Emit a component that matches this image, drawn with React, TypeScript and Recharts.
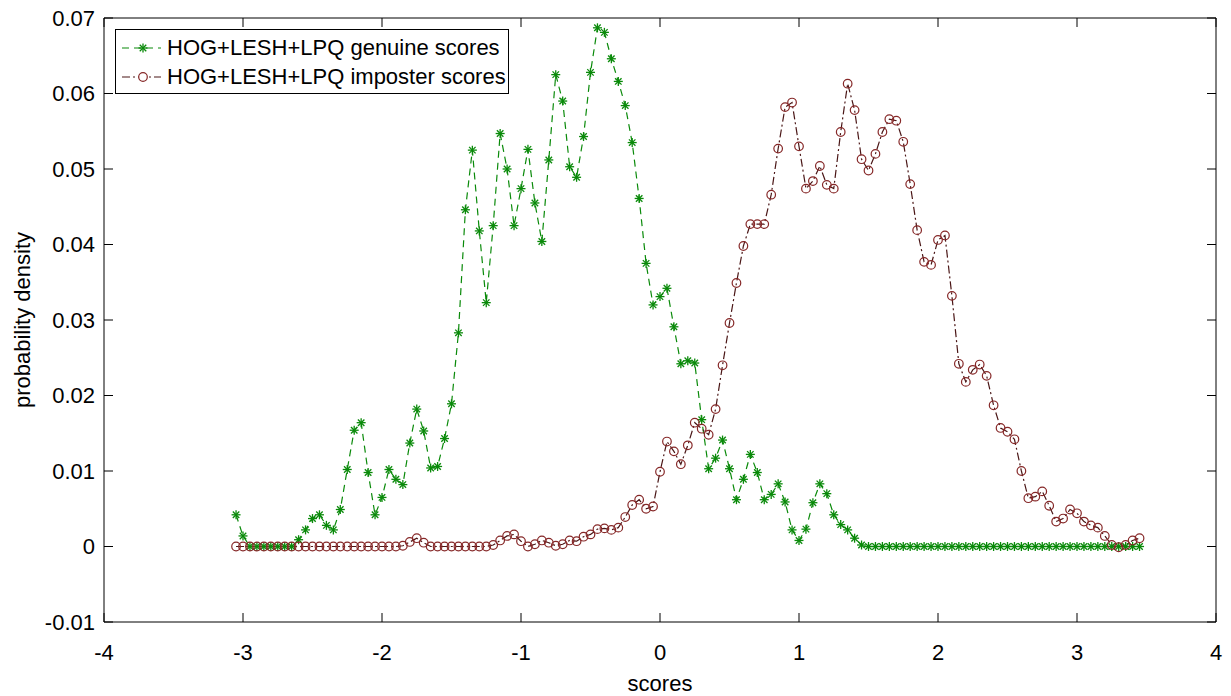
import React from "react";
import { LineChart, Line, XAxis, YAxis, ReferenceArea } from "recharts";

// score grid (bin centres)
const X_VALUES = [
  -3.05, -3.0, -2.95, -2.9, -2.85, -2.8, -2.75, -2.7, -2.65, -2.6,
  -2.55, -2.5, -2.45, -2.4, -2.35, -2.3, -2.25, -2.2, -2.15, -2.1,
  -2.05, -2.0, -1.95, -1.9, -1.85, -1.8, -1.75, -1.7, -1.65, -1.6,
  -1.55, -1.5, -1.45, -1.4, -1.35, -1.3, -1.25, -1.2, -1.15, -1.1,
  -1.05, -1.0, -0.95, -0.9, -0.85, -0.8, -0.75, -0.7, -0.65, -0.6,
  -0.55, -0.5, -0.45, -0.4, -0.35, -0.3, -0.25, -0.2, -0.15, -0.1,
  -0.05, 0.0, 0.05, 0.1, 0.15, 0.2, 0.25, 0.3, 0.35, 0.4,
  0.45, 0.5, 0.55, 0.6, 0.65, 0.7, 0.75, 0.8, 0.85, 0.9,
  0.95, 1.0, 1.05, 1.1, 1.15, 1.2, 1.25, 1.3, 1.35, 1.4,
  1.45, 1.5, 1.55, 1.6, 1.65, 1.7, 1.75, 1.8, 1.85, 1.9,
  1.95, 2.0, 2.05, 2.1, 2.15, 2.2, 2.25, 2.3, 2.35, 2.4,
  2.45, 2.5, 2.55, 2.6, 2.65, 2.7, 2.75, 2.8, 2.85, 2.9,
  2.95, 3.0, 3.05, 3.1, 3.15, 3.2, 3.25, 3.3, 3.35, 3.4,
  3.45,
];

const GENUINE = [
  0.0042, 0.0014, 0, 0, 0, 0, 0, 0, 0, 0.0009,
  0.0022, 0.0037, 0.0042, 0.0028, 0.0022, 0.0049, 0.0102, 0.0154, 0.0164, 0.0098,
  0.0042, 0.0065, 0.0102, 0.0089, 0.0082, 0.0137, 0.0182, 0.0153, 0.0104, 0.0106,
  0.0143, 0.0189, 0.0283, 0.0446, 0.0525, 0.0418, 0.0323, 0.0425, 0.0547, 0.05,
  0.0425, 0.0474, 0.0526, 0.0455, 0.0404, 0.0512, 0.0625, 0.059, 0.0503, 0.0489,
  0.0543, 0.0628, 0.0687, 0.0681, 0.0646, 0.0616, 0.0584, 0.0535, 0.0461, 0.0375,
  0.032, 0.0331, 0.0342, 0.0291, 0.0242, 0.0246, 0.0243, 0.0168, 0.0103, 0.0117,
  0.0141, 0.0103, 0.0062, 0.0089, 0.0122, 0.0098, 0.0062, 0.0069, 0.0083, 0.0059,
  0.0022, 0.0008, 0.0023, 0.0058, 0.0083, 0.007, 0.0042, 0.0029, 0.0022, 0.0011,
  0.0002, 0, 0, 0, 0, 0, 0, 0, 0, 0,
  0, 0, 0, 0, 0, 0, 0, 0, 0, 0,
  0, 0, 0, 0, 0, 0, 0, 0, 0, 0,
  0, 0, 0, 0, 0, 0, 0, 0, 0, 0,
  0,
];

const IMPOSTER = [
  0, 0, 0, 0, 0, 0, 0, 0, 0, 0,
  0, 0, 0, 0, 0, 0, 0, 0, 0, 0,
  0, 0, 0, 0, 0.0001, 0.0006, 0.0011, 0.0005, 0, 0,
  0, 0, 0, 0, 0, 0, 0, 0.0002, 0.0008, 0.0014,
  0.0016, 0.0007, 0, 0.0003, 0.0008, 0.0005, 0.0001, 0.0003, 0.0008, 0.0007,
  0.0013, 0.0016, 0.0023, 0.0024, 0.0022, 0.0025, 0.0039, 0.0055, 0.0062, 0.005,
  0.0053, 0.0099, 0.0139, 0.0126, 0.0109, 0.0134, 0.0164, 0.0156, 0.0148, 0.0182,
  0.024, 0.0296, 0.0349, 0.0398, 0.0427, 0.0427, 0.0427, 0.0466, 0.0527, 0.0582,
  0.0588, 0.053, 0.0474, 0.0484, 0.0504, 0.0479, 0.0474, 0.0549, 0.0613, 0.0578,
  0.0513, 0.0498, 0.052, 0.0549, 0.0566, 0.0564, 0.0536, 0.048, 0.0419, 0.0377,
  0.0373, 0.0406, 0.0412, 0.0332, 0.0242, 0.0218, 0.0234, 0.0241, 0.0226, 0.0187,
  0.0157, 0.0152, 0.0142, 0.01, 0.0064, 0.0066, 0.0073, 0.0054, 0.0033, 0.0037,
  0.0049, 0.0044, 0.0033, 0.0028, 0.0025, 0.0014, 0.0002, -0.0001, 0.0002, 0.0008,
  0.0011,
];

const X_TICKS = [-4, -3, -2, -1, 0, 1, 2, 3, 4];
const Y_TICKS = [-0.01, 0, 0.01, 0.02, 0.03, 0.04, 0.05, 0.06, 0.07];

const SERIES_NAMES = [
  "HOG+LESH+LPQ genuine scores",
  "HOG+LESH+LPQ imposter scores",
];

const rows = X_VALUES.map((x, i) => ({
  x,
  genuine: GENUINE[i],
  imposter: IMPOSTER[i],
}));

const W = 1231;
const H = 696;
const PLOT_LEFT = 104;
const PLOT_RIGHT = 1216;
const PLOT_TOP = 18;
const PLOT_BOTTOM = 622;
const TICK = 9;

const FONT = '"Liberation Sans", Arial, Helvetica, sans-serif';
const FS = 22;
const GREEN = "#0a8a0a";
const RED = "#862828";
const RED_LINE = "#4a1616";

const XTick = (props: any) => {
  const { x, payload } = props;
  return (
    <g>
      <line x1={x} x2={x} y1={PLOT_BOTTOM} y2={PLOT_BOTTOM - TICK} stroke="#000" />
      <line x1={x} x2={x} y1={PLOT_TOP} y2={PLOT_TOP + TICK} stroke="#000" />
      <text
        x={x}
        y={652}
        textAnchor="middle"
        dominantBaseline="central"
        fontSize={FS}
        fontFamily={FONT}
        fill="#000"
      >
        {String(payload.value)}
      </text>
    </g>
  );
};

const YTick = (props: any) => {
  const { y, payload } = props;
  return (
    <g>
      <line x1={PLOT_LEFT} x2={PLOT_LEFT + TICK} y1={y} y2={y} stroke="#000" />
      <line x1={PLOT_RIGHT} x2={PLOT_RIGHT - TICK} y1={y} y2={y} stroke="#000" />
      <text
        x={PLOT_LEFT - 9}
        y={y}
        textAnchor="end"
        dominantBaseline="central"
        fontSize={FS}
        fontFamily={FONT}
        fill="#000"
      >
        {String(payload.value)}
      </text>
    </g>
  );
};

const Star = ({ cx, cy, color }: any) => {
  const r = 4.5;
  const d = r * 0.72;
  return (
    <g stroke={color} strokeWidth={1.3}>
      <line x1={cx - r} x2={cx + r} y1={cy} y2={cy} />
      <line x1={cx} x2={cx} y1={cy - r} y2={cy + r} />
      <line x1={cx - d} x2={cx + d} y1={cy - d} y2={cy + d} />
      <line x1={cx - d} x2={cx + d} y1={cy + d} y2={cy - d} />
    </g>
  );
};

const renderStar = (props: any) => {
  const { cx, cy, index } = props;
  if (cx == null || cy == null) return <g key={`s-${index}`} />;
  return (
    <g key={`s-${index}`}>
      <Star cx={cx} cy={cy} color={GREEN} />
    </g>
  );
};

const renderCircle = (props: any) => {
  const { cx, cy, index } = props;
  if (cx == null || cy == null) return <g key={`c-${index}`} />;
  return (
    <circle
      key={`c-${index}`}
      cx={cx}
      cy={cy}
      r={4.3}
      fill="none"
      stroke={RED}
      strokeWidth={1.2}
    />
  );
};

const LegendBox = () => (
  <div
    style={{
      position: "absolute",
      left: 115,
      top: 29,
      border: "1px solid #000",
      background: "#fff",
      width: 394,
      height: 65,
      boxSizing: "border-box",
      fontFamily: FONT,
      fontSize: FS,
      color: "#000",
      paddingTop: 3,
    }}
  >
    {SERIES_NAMES.map((name, i) => (
      <div
        key={name}
        style={{ display: "flex", alignItems: "center", height: 29.5 }}
      >
        <svg width={50} height={20} style={{ flex: "none" }}>
          {i === 0 ? (
            <g>
              <line x1={6} x2={45} y1={10} y2={10} stroke={GREEN} strokeWidth={1.2} strokeDasharray="7 5" />
              <Star cx={27} cy={10} color={GREEN} />
            </g>
          ) : (
            <g>
              <line x1={6} x2={45} y1={10} y2={10} stroke={RED_LINE} strokeWidth={1.2} strokeDasharray="8 3 2 3" />
              <circle cx={27} cy={10} r={4.3} fill="#fff" stroke={RED} strokeWidth={1.2} />
            </g>
          )}
        </svg>
        <span style={{ whiteSpace: "nowrap", marginLeft: 1 }}>{name}</span>
      </div>
    ))}
  </div>
);

const YTitle = () => (
  <text
    x={22}
    y={(PLOT_TOP + PLOT_BOTTOM) / 2}
    transform={`rotate(-90 22 ${(PLOT_TOP + PLOT_BOTTOM) / 2})`}
    textAnchor="middle"
    dominantBaseline="central"
    fontSize={FS}
    fontFamily={FONT}
    fill="#000"
  >
    probability density
  </text>
);

const XTitle = () => (
  <text
    x={(PLOT_LEFT + PLOT_RIGHT) / 2}
    y={683}
    textAnchor="middle"
    dominantBaseline="central"
    fontSize={FS}
    fontFamily={FONT}
    fill="#000"
  >
    scores
  </text>
);

export default function App() {
  return (
    <div
      style={{
        position: "absolute",
        left: 0,
        top: 0,
        width: W,
        height: H,
        background: "#fff",
      }}
    >
      <LineChart
        width={W}
        height={H}
        data={rows}
        margin={{ top: PLOT_TOP, right: W - PLOT_RIGHT, bottom: 0, left: 0 }}
      >
        <XAxis
          dataKey="x"
          type="number"
          domain={[-4, 4]}
          ticks={X_TICKS}
          allowDataOverflow
          height={H - PLOT_BOTTOM}
          axisLine={false}
          tickLine={false}
          tick={<XTick />}
          interval={0}
          label={<XTitle />}
        />
        <YAxis
          type="number"
          domain={[-0.01, 0.07]}
          ticks={Y_TICKS}
          allowDataOverflow
          width={PLOT_LEFT}
          axisLine={false}
          tickLine={false}
          tick={<YTick />}
          interval={0}
          label={<YTitle />}
        />
        <ReferenceArea
          x1={-4}
          x2={4}
          y1={-0.01}
          y2={0.07}
          fill="none"
          fillOpacity={0}
          stroke="#000"
          strokeWidth={1}
          ifOverflow="visible"
        />
        <Line
          type="linear"
          dataKey="genuine"
          stroke={GREEN}
          strokeWidth={1.2}
          strokeDasharray="7 5"
          dot={renderStar}
          activeDot={false}
          isAnimationActive={false}
        />
        <Line
          type="linear"
          dataKey="imposter"
          stroke={RED_LINE}
          strokeWidth={1.2}
          strokeDasharray="8 3 2 3"
          dot={renderCircle}
          activeDot={false}
          isAnimationActive={false}
        />
      </LineChart>
      <LegendBox />
    </div>
  );
}
